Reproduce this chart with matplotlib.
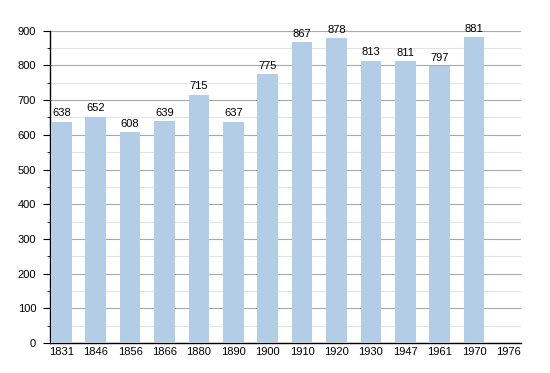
import matplotlib.pyplot as plt
from matplotlib.ticker import MultipleLocator

plt.rcParams['font.family'] = ['Liberation Sans', 'DejaVu Sans']

years = ['1831', '1846', '1856', '1866', '1880', '1890', '1900', '1910',
         '1920', '1930', '1947', '1961', '1970', '1976']
population = [638, 652, 608, 639, 715, 637, 775, 867, 878, 813, 811, 797, 881, None]

fig, ax = plt.subplots(figsize=(5.5, 3.73), dpi=100)
fig.subplots_adjust(left=0.091, right=0.947, top=0.918, bottom=0.080)

x = list(range(len(years)))
xs = [i for i, v in zip(x, population) if v is not None]
vals = [v for v in population if v is not None]

ax.bar(xs, vals, width=0.6, color='#b3cde6', zorder=3)
for xi, v in zip(xs, vals):
    ax.text(xi, v + 10, str(v), ha='center', va='bottom', fontsize=8, zorder=4)

ax.set_xlim(-0.33, 13.36)
ax.set_ylim(0, 900)
ax.set_xticks(x)
ax.set_xticklabels(years, fontsize=8)
ax.tick_params(axis='x', length=0, pad=3)
ax.yaxis.set_major_locator(MultipleLocator(100))
ax.yaxis.set_minor_locator(MultipleLocator(50))
ax.tick_params(axis='y', which='major', length=5, labelsize=8, pad=5)
ax.tick_params(axis='y', which='minor', length=2)
ax.grid(axis='y', which='major', color='#a8a8a8', linewidth=0.8, zorder=1)
ax.grid(axis='y', which='minor', color='#e4e4e4', linewidth=0.8, zorder=1)
ax.set_axisbelow(True)

for side in ['top', 'right']:
    ax.spines[side].set_visible(False)
ax.spines['left'].set_linewidth(1)
ax.spines['bottom'].set_linewidth(1)

fig.savefig('out.png', dpi=100)
